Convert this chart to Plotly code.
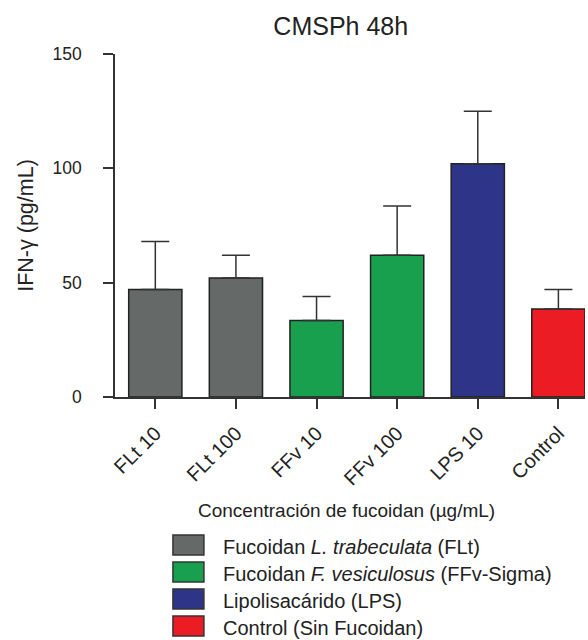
import plotly.graph_objects as go

categories = ["FLt 10", "FLt 100", "FFv 10", "FFv 100", "LPS 10", "Control"]
means = [47, 52, 33.5, 62, 102, 38.5]
sem = [21, 10, 10.5, 21.5, 23, 8.5]
bar_colors = ["#656968", "#656968", "#18a04f", "#18a04f", "#2e3589", "#ec1c24"]
y_ticks = [0, 50, 100, 150]
legend_labels = [
    "Fucoidan <i>L. trabeculata</i> (FLt)",
    "Fucoidan <i>F. vesiculosus</i> (FFv-Sigma)",
    "Lipolisacárido (LPS)",
    "Control (Sin Fucoidan)",
]
legend_colors = ["#656968", "#18a04f", "#2e3589", "#ec1c24"]

FONT = "Arial, Liberation Sans, sans-serif"
W, H = 588, 640
L, R, T, B = 115, 2.5, 54, 243

fig = go.Figure()
fig.add_trace(go.Bar(
    x=list(range(len(categories))),
    y=means,
    width=0.66,
    marker=dict(color=bar_colors, line=dict(color="#222222", width=1.5)),
    error_y=dict(type="data", array=sem, arrayminus=[0] * len(sem), symmetric=False,
                 color="#333333", thickness=1.5, width=14),
    showlegend=False,
))

fig.update_layout(
    width=W, height=H,
    margin=dict(l=L, r=R, t=T, b=B, pad=0),
    paper_bgcolor="white", plot_bgcolor="white",
    font=dict(family=FONT, color="#222222"),
    title=dict(text="CMSPh 48h", font=dict(size=25, family=FONT, color="#222222"),
               xref="paper", x=(341 - L) / (W - L - R), xanchor="center",
               yref="container", y=1 - 26 / H, yanchor="middle"),
)
fig.update_xaxes(
    range=[-0.5, 5.33], tickmode="array",
    tickvals=list(range(len(categories))), ticktext=categories,
    tickangle=-45, ticks="outside", ticklen=10, tickwidth=1.5, tickcolor="#333333",
    showline=True, linecolor="#333333", linewidth=1.5,
    showgrid=False, zeroline=False, fixedrange=True,
    tickfont=dict(size=20, family=FONT, color="#222222"),
    ticklabelstandoff=5,
)
fig.update_yaxes(
    range=[0, 150], tickmode="array", tickvals=y_ticks,
    ticks="outside", ticklen=10, tickwidth=1.5, tickcolor="#333333",
    showline=True, linecolor="#333333", linewidth=1.5,
    showgrid=False, zeroline=False,
    tickfont=dict(size=17.5, family=FONT, color="#222222"),
    ticklabelstandoff=18,
    title=dict(text="IFN-γ (pg/mL)", font=dict(size=21.5, family=FONT, color="#222222"), standoff=13),
)

pw = W - L - R
ph = H - T - B
def px_x(v):
    return (v - L) / pw
def px_y(v):
    return 1 - (v - T) / ph

# x-axis title
fig.add_annotation(text="Concentración de fucoidan (µg/mL)", xref="paper", yref="paper",
                   x=px_x(347), y=px_y(511),
                   xanchor="center", yanchor="middle", showarrow=False,
                   font=dict(size=19, family=FONT, color="#222222"))

# legend drawn manually
row_centers = [545, 572, 599, 626]
for yc, lab, col in zip(row_centers, legend_labels, legend_colors):
    fig.add_shape(type="rect", xref="paper", yref="paper",
                  x0=px_x(173), x1=px_x(204), y0=px_y(yc - 10), y1=px_y(yc + 10),
                  fillcolor=col, line=dict(color="#333333", width=1.5))
    fig.add_annotation(text=lab, xref="paper", yref="paper",
                       x=px_x(221), y=px_y(yc + 2), xanchor="left", yanchor="middle",
                       showarrow=False, font=dict(size=20, family=FONT, color="#222222"))

fig.write_html("out.html", config={"displayModeBar": False},
               post_script="document.body.style.margin='0';document.body.style.overflow='hidden';")
